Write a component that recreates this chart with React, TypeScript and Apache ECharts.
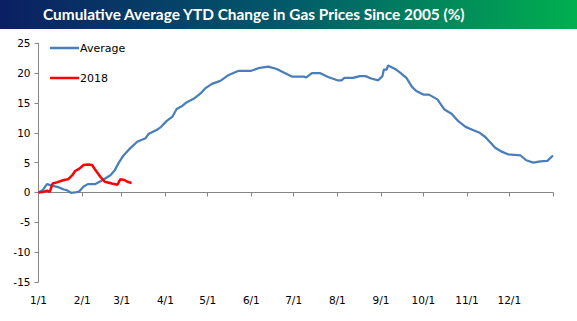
import React, { useEffect, useRef } from "react";
import * as echarts from "echarts";

const titleText = "Cumulative Average YTD Change in Gas Prices Since 2005 (%)";

const monthTickDays = [0, 31, 59, 90, 120, 151, 181, 212, 243, 273, 304, 334, 365];
const monthLabels = ["1/1", "2/1", "3/1", "4/1", "5/1", "6/1", "7/1", "8/1", "9/1", "10/1", "11/1", "12/1", ""];

const yTicks = [-15, -10, -5, 0, 5, 10, 15, 20, 25];

const avgDays = [0, 3, 6, 9, 14, 18, 20, 23, 26, 29, 32, 35, 40, 44, 47, 51, 54, 57, 60, 65, 70, 76, 78, 84, 87, 91, 95, 98, 102, 105, 110, 115, 118, 123, 129, 135, 142, 151, 157, 163, 169, 174, 180, 188, 190, 194, 200, 205, 212, 215, 217, 223, 228, 232, 236, 241, 244, 245, 247, 248, 253, 257, 261, 265, 268, 273, 277, 283, 288, 293, 298, 303, 309, 313, 317, 324, 329, 333, 342, 346, 351, 356, 361, 365];
const avgValues = [0, 0.4, 1.4, 1.2, 0.9, 0.5, 0.4, -0.05, 0, 0.2, 1.0, 1.4, 1.4, 1.9, 2.3, 2.9, 3.7, 5.0, 6.1, 7.4, 8.5, 9.1, 9.8, 10.5, 11.0, 12.0, 12.7, 14.0, 14.5, 15.1, 15.7, 16.6, 17.4, 18.2, 18.7, 19.7, 20.4, 20.4, 20.9, 21.1, 20.7, 20.1, 19.4, 19.4, 19.3, 20.0, 20.0, 19.4, 18.8, 18.8, 19.2, 19.2, 19.5, 19.5, 19.1, 18.8, 19.5, 20.6, 20.6, 21.3, 20.7, 20.0, 19.2, 17.7, 17.0, 16.4, 16.4, 15.6, 13.9, 13.2, 11.9, 11.0, 10.4, 10.0, 9.3, 7.5, 6.8, 6.4, 6.2, 5.4, 5.0, 5.2, 5.3, 6.2];

const y2018Days = [0, 3, 6, 8, 10, 13, 18, 21, 24, 26, 29, 32, 35, 38, 40, 44, 47, 52, 56, 58, 61, 63, 66];
const y2018Values = [0, 0.1, 0.3, 0.1, 1.5, 1.7, 2.1, 2.2, 2.9, 3.6, 4.0, 4.6, 4.7, 4.6, 3.9, 2.6, 1.8, 1.5, 1.3, 2.2, 2.1, 1.8, 1.6];

const seriesNames = ["Average", "2018"];
const seriesColors = ["#4a7ebb", "#ff0000"];

export default function App() {
  const ref = useRef<HTMLDivElement>(null);

  useEffect(() => {
    document.body.style.margin = "0";
    if (!ref.current) return;
    const chart = echarts.init(ref.current, null, { renderer: "svg" });
    const avgData = avgDays.map((d, i) => [d, avgValues[i]]);
    const data2018 = y2018Days.map((d, i) => [d, y2018Values[i]]);
    const labelFont = { fontFamily: "DejaVu Sans", fontSize: 10.5, color: "#000" };
    const axisColor = "#868686";

    chart.setOption({
      animation: false,
      backgroundColor: "#ffffff",
      graphic: [
        {
          type: "rect",
          left: 0,
          top: 0,
          shape: { x: 0, y: 0, width: 577, height: 29 },
          style: {
            fill: new echarts.graphic.LinearGradient(0, 0, 1, 0, [
              { offset: 0, color: "#0b1f62" },
              { offset: 0.5, color: "#035a6a" },
              { offset: 1, color: "#00b04f" },
            ]),
          },
          z: 0,
        },
        {
          type: "text",
          left: 43,
          top: 6,
          style: {
            text: titleText,
            fill: "#ffffff",
            font: "bold 15.4px Lato",
          },
          z: 1,
        },
      ],
      legend: {
        orient: "vertical",
        left: 45,
        top: 37,
        icon: "rect",
        itemWidth: 29,
        itemHeight: 2.5,
        itemGap: 18,
        textStyle: { fontFamily: "DejaVu Sans", fontSize: 11, color: "#000", padding: [0, 0, 0, -4], lineHeight: 12 },
        data: seriesNames,
      },
      grid: { left: 38.5, right: 24, top: 43.3, bottom: 39, containLabel: false },
      xAxis: [
        {
          type: "value",
          min: 0,
          max: 365,
          axisLine: { show: true, onZero: true, lineStyle: { color: axisColor, width: 1 } },
          axisTick: { show: true, length: 4, customValues: monthTickDays, lineStyle: { color: axisColor } },
          axisLabel: { show: false },
          splitLine: { show: false },
        },
        {
          type: "value",
          min: 0,
          max: 365,
          position: "bottom",
          axisLine: { show: false, onZero: false },
          axisTick: { show: false },
          axisLabel: {
            show: true,
            margin: 12,
            customValues: monthTickDays,
            formatter: (v: number) => {
              const i = monthTickDays.indexOf(Math.round(v));
              return i >= 0 ? monthLabels[i] : "";
            },
            ...labelFont,
          },
          splitLine: { show: false },
        },
      ],
      yAxis: {
        type: "value",
        min: yTicks[0],
        max: yTicks[yTicks.length - 1],
        interval: 5,
        axisLine: { show: true, lineStyle: { color: axisColor, width: 1 } },
        axisTick: { show: true, length: 4, lineStyle: { color: axisColor } },
        axisLabel: { margin: 8, ...labelFont },
        splitLine: { show: false },
      },
      series: [
        {
          name: seriesNames[0],
          type: "line",
          xAxisIndex: 0,
          data: avgData,
          symbol: "none",
          lineStyle: { color: seriesColors[0], width: 2.25 },
          itemStyle: { color: seriesColors[0] },
          z: 2,
        },
        {
          name: seriesNames[1],
          type: "line",
          xAxisIndex: 0,
          data: data2018,
          symbol: "none",
          lineStyle: { color: seriesColors[1], width: 2.5 },
          itemStyle: { color: seriesColors[1] },
          z: 3,
        },
      ],
    });
    return () => chart.dispose();
  }, []);

  return <div ref={ref} style={{ position: "absolute", left: 0, top: 0, width: 577, height: 321 }} />;
}
